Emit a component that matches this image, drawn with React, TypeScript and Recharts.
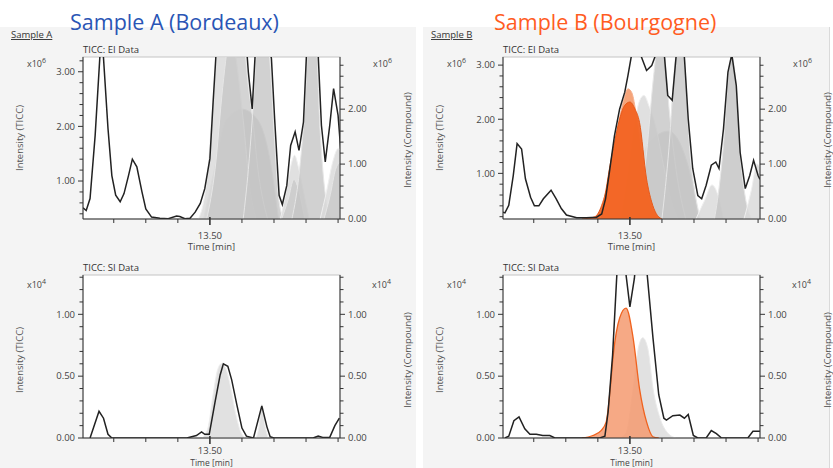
import React from 'react';
import { ComposedChart, Line, Area, XAxis, YAxis } from 'recharts';

type Pts = [number, number][];

// x axis (retention time, min)
const timeTicks = [13.35, 13.4, 13.45, 13.5, 13.55, 13.6, 13.65, 13.7];
const timeDomain: [number, number] = [13.302, 13.703];

// y axis ticks (minor + labelled majors)
const eiTicksLeftA = [0.4, 0.6, 0.8, 1, 1.2, 1.4, 1.6, 1.8, 2, 2.2, 2.4, 2.6, 2.8, 3, 3.2];
const eiTicksLeftB = [0.2, 0.4, 0.6, 0.8, 1, 1.2, 1.4, 1.6, 1.8, 2, 2.2, 2.4, 2.6, 2.8, 3];
const eiTicksRight = [0, 0.2, 0.4, 0.6, 0.8, 1, 1.2, 1.4, 1.6, 1.8, 2, 2.2, 2.4, 2.6, 2.8];
const siTicks = [0, 0.1, 0.2, 0.3, 0.4, 0.5, 0.6, 0.7, 0.8, 0.9, 1, 1.1, 1.2, 1.3];
const eiMajorsLeft = [1, 2, 3];
const eiMajorsRight = [0, 1, 2];
const siMajors = [0, 0.5, 1];

// Sample A, EI data (x10^6)
const eiA_ticc: Pts = [
  [13.302, 0.51], [13.307, 0.46], [13.313, 0.68], [13.321, 1.84], [13.331, 3.8], [13.341, 1.96],
  [13.347, 1.1], [13.353, 0.74], [13.36, 0.62], [13.366, 0.77], [13.373, 1.1], [13.379, 1.4],
  [13.386, 1.26], [13.394, 0.8], [13.4, 0.49], [13.409, 0.34], [13.422, 0.32], [13.435, 0.31],
  [13.448, 0.36], [13.453, 0.35], [13.461, 0.31], [13.469, 0.32], [13.477, 0.43], [13.485, 0.59],
  [13.492, 0.86], [13.5, 1.41], [13.505, 2.44], [13.511, 3.6], [13.526, 4.5], [13.542, 5.0],
  [13.555, 3.8], [13.56, 2.99], [13.566, 2.32], [13.571, 3.4], [13.583, 4.2], [13.596, 3.24],
  [13.601, 2.14], [13.608, 0.74], [13.613, 0.57], [13.62, 0.92], [13.626, 1.65], [13.633, 1.9],
  [13.639, 1.56], [13.646, 2.08], [13.651, 3.4], [13.659, 4.0], [13.669, 3.3], [13.674, 2.02],
  [13.68, 1.35], [13.687, 2.02], [13.693, 2.69], [13.7, 2.2], [13.704, 1.59],
];
const eiA_c1: Pts = [[13.482, 0], [13.49, 0.3], [13.497, 0.9], [13.504, 2.0], [13.512, 3.2], [13.52, 3.9], [13.53, 3.7], [13.54, 3.0], [13.552, 1.8], [13.562, 0.6], [13.572, 0]];
const eiA_c2: Pts = [[13.495, 0], [13.508, 0.9], [13.52, 2.4], [13.532, 3.5], [13.542, 3.9], [13.552, 3.4], [13.56, 2.4], [13.566, 1.9], [13.575, 0.9], [13.59, 0]];
const eiA_c3: Pts = [[13.552, 0], [13.56, 0.9], [13.566, 1.8], [13.574, 3.3], [13.584, 3.9], [13.594, 2.8], [13.601, 1.4], [13.607, 0.4], [13.615, 0]];
const eiA_c4: Pts = [[13.49, 0], [13.505, 0.8], [13.525, 1.8], [13.55, 2.0], [13.575, 1.8], [13.595, 1.0], [13.607, 0]];
const eiA_c5: Pts = [[13.61, 0], [13.619, 0.5], [13.627, 1.0], [13.632, 1.16], [13.638, 0.95], [13.646, 0.5], [13.655, 0]];
const eiA_c6: Pts = [[13.612, 0], [13.622, 0.35], [13.631, 0.72], [13.638, 0.55], [13.648, 0]];
const eiA_c7: Pts = [[13.628, 0], [13.64, 0.9], [13.648, 2.0], [13.656, 3.7], [13.664, 3.6], [13.672, 1.6], [13.68, 0.45], [13.69, 0]];
const eiA_c8: Pts = [[13.672, 0], [13.682, 0.5], [13.692, 1.05], [13.7, 1.28], [13.706, 1.2]];
const eiA_c9: Pts = [[13.678, 0], [13.688, 0.45], [13.696, 0.9], [13.703, 1.04]];

// Sample B, EI data (x10^6)
const eiB_ticc: Pts = [
  [13.302, 0.28], [13.305, 0.27], [13.311, 0.41], [13.318, 0.96], [13.324, 1.55], [13.331, 1.45],
  [13.337, 0.9], [13.345, 0.56], [13.351, 0.4], [13.358, 0.4], [13.365, 0.53], [13.377, 0.69],
  [13.385, 0.53], [13.393, 0.35], [13.401, 0.23], [13.417, 0.18], [13.432, 0.18], [13.448, 0.19],
  [13.456, 0.25], [13.462, 0.53], [13.468, 1.02], [13.476, 1.7], [13.484, 2.19], [13.492, 2.5],
  [13.497, 2.81], [13.502, 3.15], [13.51, 3.4], [13.518, 3.15], [13.526, 2.9], [13.534, 2.99],
  [13.539, 3.15], [13.546, 3.5], [13.554, 3.15], [13.559, 2.44], [13.566, 2.35], [13.572, 3.15],
  [13.579, 3.4], [13.585, 3.15], [13.591, 2.01], [13.598, 1.09], [13.606, 0.59], [13.612, 0.53],
  [13.619, 0.78], [13.627, 1.15], [13.634, 1.21], [13.639, 1.09], [13.646, 1.82], [13.653, 2.87],
  [13.659, 3.2], [13.666, 2.62], [13.672, 1.39], [13.68, 0.72], [13.687, 0.96], [13.693, 1.24],
  [13.7, 0.96], [13.703, 0.89],
];
const eiB_c1: Pts = [[13.486, 0], [13.498, 0.9], [13.507, 1.7], [13.515, 2.15], [13.522, 2.25], [13.53, 2.05], [13.54, 1.7], [13.552, 1.0], [13.565, 0.3], [13.575, 0]];
const eiB_c2: Pts = [[13.512, 0], [13.526, 1.2], [13.537, 2.6], [13.546, 3.4], [13.554, 3.0], [13.562, 1.9], [13.572, 0.9], [13.587, 0]];
const eiB_c3: Pts = [[13.55, 0], [13.561, 1.3], [13.57, 2.8], [13.579, 3.5], [13.587, 2.6], [13.593, 1.3], [13.6, 0.6], [13.61, 0]];
const eiB_c4: Pts = [[13.5, 0], [13.525, 1.3], [13.56, 1.6], [13.59, 1.0], [13.607, 0]];
const eiB_c5: Pts = [[13.603, 0], [13.617, 0.35], [13.628, 0.62], [13.636, 0.48], [13.646, 0]];
const eiB_c6: Pts = [[13.632, 0], [13.641, 0.75], [13.647, 1.5], [13.653, 2.55], [13.659, 2.95], [13.666, 2.4], [13.672, 1.2], [13.68, 0.4], [13.69, 0]];
const eiB_c7: Pts = [[13.678, 0], [13.69, 0.55], [13.698, 1.0], [13.703, 0.95]];
const eiB_target2: Pts = [[13.455, 0], [13.468, 0.7], [13.48, 1.6], [13.49, 2.15], [13.497, 2.37], [13.503, 2.3], [13.51, 1.9], [13.52, 1.1], [13.53, 0.4], [13.545, 0]];
const eiB_target: Pts = [
  [13.425, 0], [13.445, 0.04], [13.456, 0.25], [13.462, 0.49], [13.468, 0.91], [13.476, 1.4],
  [13.484, 1.82], [13.492, 2.07], [13.5, 2.13], [13.508, 2.0], [13.515, 1.76], [13.526, 0.73],
  [13.534, 0.31], [13.541, 0.1], [13.55, 0],
];

// Sample A, SI data (x10^4)
const siA_ticc: Pts = [
  [13.313, 0], [13.327, 0.216], [13.334, 0.16], [13.341, 0.03], [13.347, 0], [13.464, 0],
  [13.479, 0.02], [13.487, 0.05], [13.492, 0.03], [13.499, 0.03], [13.508, 0.29], [13.516, 0.51],
  [13.521, 0.6], [13.528, 0.58], [13.534, 0.47], [13.542, 0.27], [13.55, 0.08], [13.557, 0.015],
  [13.568, 0], [13.581, 0.26], [13.589, 0.09], [13.594, 0.01], [13.6, 0], [13.661, 0],
  [13.669, 0.015], [13.676, 0.005], [13.687, 0.005], [13.695, 0.1], [13.702, 0.16],
];
const siA_c1: Pts = [[13.488, 0], [13.497, 0.08], [13.505, 0.35], [13.512, 0.55], [13.518, 0.6], [13.524, 0.57], [13.532, 0.42], [13.54, 0.2], [13.548, 0.05], [13.555, 0]];
const siA_c2: Pts = [[13.572, 0], [13.577, 0.1], [13.581, 0.27], [13.586, 0.1], [13.591, 0]];

// Sample B, SI data (x10^4)
const siB_ticc: Pts = [
  [13.305, 0], [13.311, 0.015], [13.319, 0.14], [13.327, 0.17], [13.336, 0.075], [13.344, 0.03],
  [13.354, 0.03], [13.364, 0.02], [13.375, 0.02], [13.383, 0], [13.453, 0], [13.461, 0.015],
  [13.466, 0.21], [13.473, 0.67], [13.484, 1.75], [13.5, 1.06], [13.507, 1.29], [13.515, 1.8],
  [13.52, 1.7], [13.527, 1.32], [13.536, 0.81], [13.545, 0.35], [13.553, 0.16], [13.557, 0.145],
  [13.567, 0.18], [13.578, 0.185], [13.585, 0.16], [13.591, 0.19], [13.599, 0.02], [13.606, 0],
  [13.619, 0], [13.627, 0.06], [13.635, 0.035], [13.643, 0], [13.684, 0], [13.692, 0.054],
  [13.7, 0.054], [13.703, 0.054],
];
const siB_c1: Pts = [[13.484, 0], [13.494, 0.04], [13.505, 0.4], [13.513, 0.72], [13.52, 0.81], [13.528, 0.72], [13.536, 0.4], [13.547, 0.16], [13.56, 0.035], [13.572, 0]];
const siB_target: Pts = [
  [13.425, 0], [13.442, 0.02], [13.455, 0.06], [13.463, 0.13], [13.469, 0.38], [13.474, 0.67],
  [13.484, 0.97], [13.494, 1.05], [13.505, 0.81], [13.515, 0.4], [13.526, 0.13], [13.536, 0.01], [13.545, 0],
];

const merge = (series: Record<string, Pts>) => {
  const rows = new Map<string, any>();
  Object.entries(series).forEach(([key, pts]) => {
    pts.forEach(([t, v]) => {
      const k = t.toFixed(3);
      if (!rows.has(k)) rows.set(k, { t });
      rows.get(k)[key] = v;
    });
  });
  return [...rows.values()].sort((a, b) => a.t - b.t);
};

const LIGHT = { fill: '#dadada', stroke: '#efefef' };
const MID = { fill: '#c6c6c6', stroke: '#e6e6e6' };
const DARK = { fill: '#b9b9b9', stroke: '#dcdcdc' };

type AreaSpec = { key: string; pts: Pts; fill: string; stroke: string; opacity: number; width?: number };

const eiAAreas: AreaSpec[] = [
  { key: 'c4', pts: eiA_c4, ...DARK, opacity: 0.8 },
  { key: 'c1', pts: eiA_c1, ...LIGHT, opacity: 0.85 },
  { key: 'c2', pts: eiA_c2, ...MID, opacity: 0.75 },
  { key: 'c3', pts: eiA_c3, ...MID, opacity: 0.8 },
  { key: 'c5', pts: eiA_c5, ...LIGHT, opacity: 0.85 },
  { key: 'c6', pts: eiA_c6, ...MID, opacity: 0.7 },
  { key: 'c7', pts: eiA_c7, ...MID, opacity: 0.8 },
  { key: 'c8', pts: eiA_c8, ...LIGHT, opacity: 0.85 },
  { key: 'c9', pts: eiA_c9, ...MID, opacity: 0.7 },
];
const eiBAreas: AreaSpec[] = [
  { key: 'c4', pts: eiB_c4, ...DARK, opacity: 0.7 },
  { key: 'c1', pts: eiB_c1, ...LIGHT, opacity: 0.85 },
  { key: 'c2', pts: eiB_c2, ...MID, opacity: 0.8 },
  { key: 'c3', pts: eiB_c3, ...MID, opacity: 0.8 },
  { key: 'c5', pts: eiB_c5, ...LIGHT, opacity: 0.85 },
  { key: 'c6', pts: eiB_c6, ...MID, opacity: 0.85 },
  { key: 'c7', pts: eiB_c7, ...LIGHT, opacity: 0.85 },
  { key: 'o2', pts: eiB_target2, fill: '#f49a6c', stroke: '#f6b08e', opacity: 0.9 },
  { key: 'o1', pts: eiB_target, fill: '#f2621f', stroke: '#e85a1a', opacity: 0.92 },
];
const siAAreas: AreaSpec[] = [
  { key: 'c1', pts: siA_c1, fill: '#dedede', stroke: '#eeeeee', opacity: 0.9 },
  { key: 'c2', pts: siA_c2, fill: '#dedede', stroke: '#eeeeee', opacity: 0.9 },
];
const siBAreas: AreaSpec[] = [
  { key: 'c1', pts: siB_c1, fill: '#dedede', stroke: '#eaeaea', opacity: 0.9 },
  { key: 'o1', pts: siB_target, fill: '#f59a70', stroke: '#f0621e', opacity: 0.85, width: 1.3 },
];

const FONT = "'Open Sans', sans-serif";

const TimeTick = (p: any) => {
  const { x, y, payload, labelDy } = p;
  const major = Math.abs(payload.value - 13.5) < 1e-6;
  return (
    <g>
      <line x1={x} x2={x} y1={major ? y - 2 : y} y2={y + (major ? 6 : 4)} stroke="#333" strokeWidth={major ? 1.6 : 1} />
      {major && (
        <text x={x} y={y + labelDy} textAnchor="middle" fontSize={9.5} fill="#444" fontFamily={FONT}>
          {payload.value.toFixed(2)}
        </text>
      )}
    </g>
  );
};

const ValueTick = (p: any) => {
  const { x, y, payload, side, majors } = p;
  const v = payload.value;
  const major = majors.some((m: number) => Math.abs(m - v) < 1e-6);
  const d = side === 'left' ? -1 : 1;
  return (
    <g>
      <line x1={x} x2={x + d * (major ? 5 : 3.5)} y1={y} y2={y} stroke="#333" />
      {major && (
        <text x={x + d * 8} y={y + 3.3} textAnchor={side === 'left' ? 'end' : 'start'} fontSize={9.5} fill="#444" fontFamily={FONT}>
          {v.toFixed(2)}
        </text>
      )}
    </g>
  );
};

type PanelProps = {
  left: number;
  top: number;
  height: number;
  marginTop: number;
  marginBottom: number;
  labelDy: number;
  ticc: Pts;
  areas: AreaSpec[];
  leftDomain: [number, number];
  rightDomain: [number, number];
  leftTicks: number[];
  rightTicks: number[];
  leftMajors: number[];
  rightMajors: number[];
};

const Panel = (props: PanelProps) => {
  const series: Record<string, Pts> = { ticc: props.ticc };
  props.areas.forEach((a) => (series[a.key] = a.pts));
  const rows = merge(series);
  return (
    <div style={{ position: 'absolute', left: props.left, top: props.top }}>
      <ComposedChart
        width={420}
        height={props.height}
        data={rows}
        margin={{ top: props.marginTop, right: 40, bottom: props.marginBottom, left: 43 }}>
        <XAxis
          dataKey="t"
          type="number"
          domain={timeDomain}
          allowDataOverflow
          ticks={timeTicks}
          interval={0}
          height={30}
          tickSize={0}
          tickMargin={0}
          tickLine={false}
          axisLine={{ stroke: '#333' }}
          tick={(p: any) => <TimeTick {...p} labelDy={props.labelDy} />}
        />
        <YAxis
          yAxisId="l"
          orientation="left"
          width={40}
          domain={props.leftDomain}
          allowDataOverflow
          ticks={props.leftTicks}
          interval={0}
          tickSize={0}
          tickMargin={0}
          tickLine={false}
          axisLine={{ stroke: '#333' }}
          tick={(p: any) => <ValueTick {...p} side="left" majors={props.leftMajors} />}
        />
        <YAxis
          yAxisId="r"
          orientation="right"
          width={40}
          domain={props.rightDomain}
          allowDataOverflow
          ticks={props.rightTicks}
          interval={0}
          tickSize={0}
          tickMargin={0}
          tickLine={false}
          axisLine={{ stroke: '#333' }}
          tick={(p: any) => <ValueTick {...p} side="right" majors={props.rightMajors} />}
        />
        {props.areas.map((a) => (
          <Area
            key={a.key}
            yAxisId="r"
            dataKey={a.key}
            type="monotone"
            connectNulls
            fill={a.fill}
            fillOpacity={a.opacity}
            stroke={a.stroke}
            strokeWidth={a.width ?? 1}
            dot={false}
            activeDot={false}
            isAnimationActive={false}
          />
        ))}
        <Line
          yAxisId="l"
          dataKey="ticc"
          type="linear"
          connectNulls
          stroke="#222"
          strokeWidth={1.5}
          dot={false}
          activeDot={false}
          isAnimationActive={false}
        />
      </ComposedChart>
    </div>
  );
};

const Sup = ({ x, y, exp }: { x: number; y: number; exp: string }) => (
  <text x={x} y={y} fontSize={9} fill="#444">
    x10
    <tspan dy={-4} fontSize={7}>
      {exp}
    </tspan>
  </text>
);

const VText = ({ x, y, children }: { x: number; y: number; children: string }) => (
  <text x={x} y={y} transform={`rotate(-90 ${x} ${y})`} textAnchor="middle" fontSize={9.5} fill="#555">
    {children}
  </text>
);

const Chrome = () => (
  <svg width={833} height={468} style={{ position: 'absolute', left: 0, top: 0 }} fontFamily={FONT}>
    <rect x={0} y={0} width={833} height={468} fill="#ffffff" />
    <rect x={0} y={27} width={416} height={441} fill="#f4f4f4" />
    <rect x={423} y={27} width={406} height={441} fill="#f4f4f4" />
    <line x1={829.5} x2={829.5} y1={27} y2={468} stroke="#dadada" />
    {/* plot backgrounds */}
    <rect x={83} y={57} width={257} height={162} fill="#fff" stroke="#c4c4c4" />
    <rect x={503} y={57} width={257} height={162} fill="#fff" stroke="#c4c4c4" />
    <rect x={83} y={275} width={257} height={163} fill="#fff" stroke="#c4c4c4" />
    <rect x={503} y={275} width={257} height={163} fill="#fff" stroke="#c4c4c4" />

    <text x={70} y={30} fontSize={21.5} fill="#2a55b5">Sample A (Bordeaux)</text>
    <text x={494} y={30} fontSize={21.5} fill="#ff5c1f">Sample B (Bourgogne)</text>
    <text x={11} y={38} fontSize={9.5} fill="#333" textDecoration="underline">Sample A</text>
    <text x={431} y={38} fontSize={9.5} fill="#333" textDecoration="underline">Sample B</text>

    {[0, 420].map((dx) => (
      <g key={dx}>
        <text x={83 + dx} y={53} fontSize={9.5} fill="#333">TICC: EI Data</text>
        <text x={83 + dx} y={271} fontSize={9.5} fill="#333">TICC: SI Data</text>
        <Sup x={27 + dx} y={67} exp="6" />
        <Sup x={373 + dx} y={67} exp="6" />
        <Sup x={27 + dx} y={288} exp="4" />
        <Sup x={372 + dx} y={288} exp="4" />
        <VText x={23 + dx} y={138}>Intensity (TICC)</VText>
        <VText x={411 + dx} y={140}>Intensity (Compound)</VText>
        <VText x={23 + dx} y={360}>Intensity (TICC)</VText>
        <VText x={411 + dx} y={360}>Intensity (Compound)</VText>
        <text x={211.5 + dx} y={250} textAnchor="middle" fontSize={9.5} fill="#444">Time [min]</text>
        <text x={211.5 + dx} y={466} textAnchor="middle" fontSize={8.5} fill="#444">Time [min]</text>
      </g>
    ))}
  </svg>
);

export default function App() {
  return (
    <div style={{ position: 'absolute', left: 0, top: 0, width: 833, height: 468, overflow: 'hidden', fontFamily: FONT }}>
      <Chrome />
      <Panel
        left={0}
        top={40}
        height={220}
        marginTop={17}
        marginBottom={11}
        labelDy={19.5}
        ticc={eiA_ticc}
        areas={eiAAreas}
        leftDomain={[0.305, 3.27]}
        rightDomain={[0, 2.95]}
        leftTicks={eiTicksLeftA}
        rightTicks={eiTicksRight}
        leftMajors={eiMajorsLeft}
        rightMajors={eiMajorsRight}
      />
      <Panel
        left={420}
        top={40}
        height={220}
        marginTop={17}
        marginBottom={11}
        labelDy={19.5}
        ticc={eiB_ticc}
        areas={eiBAreas}
        leftDomain={[0.157, 3.15]}
        rightDomain={[0, 2.95]}
        leftTicks={eiTicksLeftB}
        rightTicks={eiTicksRight}
        leftMajors={eiMajorsLeft}
        rightMajors={eiMajorsRight}
      />
      <Panel
        left={0}
        top={262}
        height={206}
        marginTop={13}
        marginBottom={0}
        labelDy={16}
        ticc={siA_ticc}
        areas={siAAreas}
        leftDomain={[0, 1.318]}
        rightDomain={[0, 1.318]}
        leftTicks={siTicks}
        rightTicks={siTicks}
        leftMajors={siMajors}
        rightMajors={siMajors}
      />
      <Panel
        left={420}
        top={262}
        height={206}
        marginTop={13}
        marginBottom={0}
        labelDy={16}
        ticc={siB_ticc}
        areas={siBAreas}
        leftDomain={[0, 1.318]}
        rightDomain={[0, 1.318]}
        leftTicks={siTicks}
        rightTicks={siTicks}
        leftMajors={siMajors}
        rightMajors={siMajors}
      />
    </div>
  );
}
